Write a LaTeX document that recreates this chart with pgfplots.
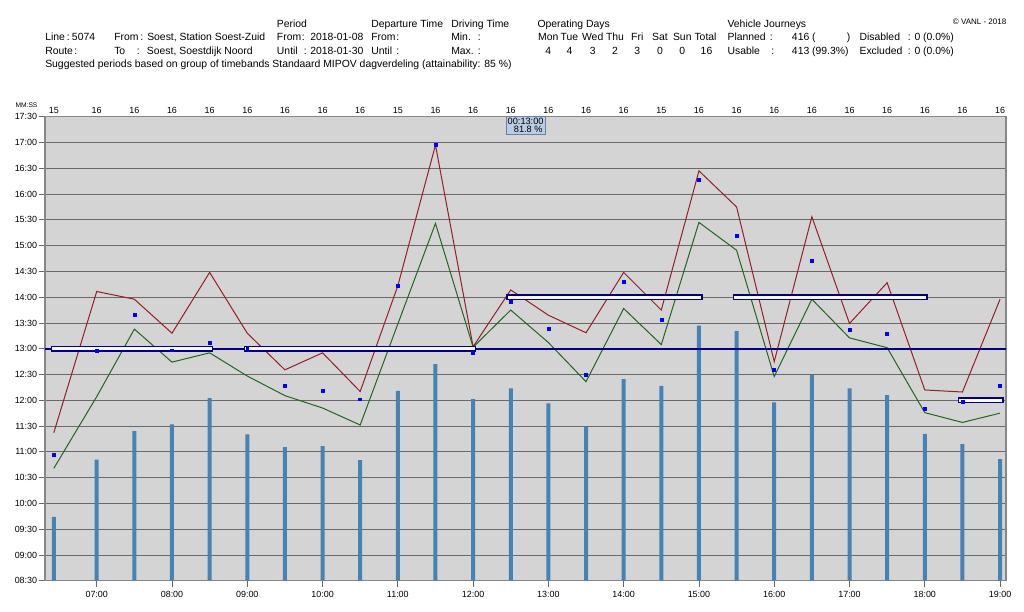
\documentclass[border=0pt]{standalone}
\usepackage{pgfplots}
\pgfplotsset{compat=1.18}
\usepackage{fontspec}
\setmainfont{Liberation Sans}

\definecolor{plotbg}{RGB}{212,212,212}
\definecolor{gridc}{RGB}{105,105,105}
\definecolor{framec}{RGB}{135,135,135}
\definecolor{barc}{RGB}{70,130,180}
\definecolor{maxc}{RGB}{150,30,40}
\definecolor{minc}{RGB}{35,100,35}
\definecolor{navyc}{RGB}{0,0,128}
\definecolor{starc}{RGB}{0,0,255}
\definecolor{tipfill}{RGB}{185,205,228}
\definecolor{tipdraw}{RGB}{110,130,160}

\newcommand{\hdr}{\fontsize{7.8pt}{9.4pt}\selectfont}
\newcommand{\tck}{\fontsize{6.7pt}{8pt}\selectfont}

\pgfplotstableread{
x y
6.43 9.74
7.0 10.85
7.5 11.40
8.0 11.53
8.5 12.04
9.0 11.34
9.5 11.09
10.0 11.11
10.5 10.84
11.0 12.18
11.5 12.70
12.0 12.02
12.5 12.23
13.0 11.94
13.5 11.48
14.0 12.41
14.5 12.28
15.0 13.45
15.5 13.34
16.0 11.96
16.5 12.49
17.0 12.23
17.5 12.10
18.0 11.35
18.5 11.15
19.0 10.86
}\bars

\pgfplotstableread{
x y
6.43 11.37
7.0 14.11
7.5 13.96
8.0 13.30
8.5 14.48
9.0 13.30
9.5 12.59
10.0 12.92
10.5 12.17
11.0 14.22
11.5 16.95
12.0 13.04
12.5 14.14
13.0 13.65
13.5 13.31
14.0 14.48
14.5 13.75
15.0 16.45
15.5 15.75
16.0 12.75
16.5 15.56
17.0 13.49
17.5 14.28
18.0 12.20
18.5 12.16
19.0 13.96
}\maxt

\pgfplotstableread{
x y
6.43 10.68
7.0 12.07
7.5 13.38
8.0 12.74
8.5 12.92
9.0 12.47
9.5 12.09
10.0 11.85
10.5 11.52
11.0 13.48
11.5 15.43
12.0 13.03
12.5 13.75
13.0 13.12
13.5 12.36
14.0 13.78
14.5 13.08
15.0 15.45
15.5 14.91
16.0 12.46
16.5 13.96
17.0 13.21
17.5 13.02
18.0 11.76
18.5 11.57
19.0 11.75
}\mint

\pgfplotstableread{
x y
6.43 10.94
7.0 12.96
7.5 13.65
8.0 12.97
8.5 13.12
9.0 13.00
9.5 12.28
10.0 12.18
10.5 12.02
11.0 14.22
11.5 16.95
12.0 12.92
12.5 13.91
13.0 13.38
13.5 12.50
14.0 14.30
14.5 13.56
15.0 16.27
15.5 15.19
16.0 12.60
16.5 14.70
17.0 13.36
17.5 13.29
18.0 11.84
18.5 11.97
19.0 12.29
}\medt

\begin{document}
\begin{tikzpicture}
\path[use as bounding box] (0,0) rectangle (768pt,-458.25pt);
\begin{scope}[x=0.75pt,y=-0.75pt,every node/.style={inner sep=0pt,font=\hdr}]
% row 0
\node[anchor=base west] at (276.7,27.5) {Period};
\node[anchor=base west] at (371,27.5) {Departure Time};
\node[anchor=base west] at (451,27.5) {Driving Time};
\node[anchor=base west] at (537.3,27.5) {Operating Days};
\node[anchor=base west] at (727.3,27.5) {Vehicle Journeys};
\node[anchor=base east,font=\fontsize{6pt}{7pt}\selectfont] at (1006.5,24) {© VANL - 2018};
% row 1
\node[anchor=base west] at (45,40.7) {Line};
\node[anchor=base west] at (66.7,40.7) {:};
\node[anchor=base west] at (71.7,40.7) {5074};
\node[anchor=base west] at (114,40.7) {From};
\node[anchor=base west] at (140,40.7) {:};
\node[anchor=base west] at (147,40.7) {Soest, Station Soest-Zuid};
\node[anchor=base west] at (276.7,40.7) {From};
\node[anchor=base west] at (301.5,40.7) {:};
\node[anchor=base west] at (310,40.7) {2018-01-08};
\node[anchor=base west] at (371,40.7) {From};
\node[anchor=base west] at (396,40.7) {:};
\node[anchor=base west] at (451,40.7) {Min.};
\node[anchor=base west] at (477.5,40.7) {:};
\node[anchor=base] at (548.3,40.7) {Mon};
\node[anchor=base] at (569.5,40.7) {Tue};
\node[anchor=base] at (592.7,40.7) {Wed};
\node[anchor=base] at (615,40.7) {Thu};
\node[anchor=base] at (637.3,40.7) {Fri};
\node[anchor=base] at (660,40.7) {Sat};
\node[anchor=base] at (682.3,40.7) {Sun};
\node[anchor=base] at (705.5,40.7) {Total};
\node[anchor=base west] at (727.3,40.7) {Planned};
\node[anchor=base west] at (769.5,40.7) {:};
\node[anchor=base west] at (791.7,40.7) {416 (};
\node[anchor=base west] at (846.5,40.7) {)};
\node[anchor=base west] at (859.3,40.7) {Disabled};
\node[anchor=base west] at (907.7,40.7) {:};
\node[anchor=base west] at (914.3,40.7) {0 (0.0\%)};
% row 2
\node[anchor=base west] at (45,54.3) {Route};
\node[anchor=base west] at (74,54.3) {:};
\node[anchor=base west] at (114,54.3) {To};
\node[anchor=base west] at (136.7,54.3) {:};
\node[anchor=base west] at (146.7,54.3) {Soest, Soestdijk Noord};
\node[anchor=base west] at (276.7,54.3) {Until};
\node[anchor=base west] at (303.5,54.3) {:};
\node[anchor=base west] at (310,54.3) {2018-01-30};
\node[anchor=base west] at (371,54.3) {Until};
\node[anchor=base west] at (396,54.3) {:};
\node[anchor=base west] at (451,54.3) {Max.};
\node[anchor=base west] at (477.5,54.3) {:};
\node[anchor=base] at (548.3,54.3) {4};
\node[anchor=base] at (569.5,54.3) {4};
\node[anchor=base] at (592.7,54.3) {3};
\node[anchor=base] at (615,54.3) {2};
\node[anchor=base] at (637.3,54.3) {3};
\node[anchor=base] at (660,54.3) {0};
\node[anchor=base] at (682.3,54.3) {0};
\node[anchor=base] at (706.5,54.3) {16};
\node[anchor=base west] at (727.3,54.3) {Usable};
\node[anchor=base west] at (771,54.3) {:};
\node[anchor=base west] at (791.7,54.3) {413 (99.3\%)};
\node[anchor=base west] at (859.3,54.3) {Excluded};
\node[anchor=base west] at (907.7,54.3) {:};
\node[anchor=base west] at (914.3,54.3) {0 (0.0\%)};
% row 3
\node[anchor=base west] at (45,67.7) {Suggested periods based on group of timebands Standaard MIPOV dagverdeling (attainability: 85 \%)};
% unit label
\node[anchor=base,font=\fontsize{5pt}{6pt}\selectfont] at (26.5,107.7) {MM:SS};
\end{scope}

\begin{axis}[
  at={(33.75pt,-435.525pt)}, anchor=south west,
  scale only axis, width=720.75pt, height=348pt,
  xmin=6.313, xmax=19.079, ymin=8.5, ymax=17.5,
  axis background/.style={fill=plotbg},
  axis line style={draw=framec, line width=1pt},
  tick pos=left, tick align=outside,
  major tick length=4.5pt,
  tick style={draw=gridc, line width=0.6pt},
  ymajorgrids, grid style={draw=gridc, line width=0.6pt},
  xtick={7,8,9,10,11,12,13,14,15,16,17,18,19},
  xticklabels={07:00,08:00,09:00,10:00,11:00,12:00,13:00,14:00,15:00,16:00,17:00,18:00,19:00},
  ytick={8.5,9,9.5,10,10.5,11,11.5,12,12.5,13,13.5,14,14.5,15,15.5,16,16.5,17,17.5},
  yticklabels={08:30,09:00,09:30,10:00,10:30,11:00,11:30,12:00,12:30,13:00,13:30,14:00,14:30,15:00,15:30,16:00,16:30,17:00,17:30},
  tick label style={font=\tck},
  yticklabel style={inner sep=1.2pt},
  extra x ticks={6.43,7,7.5,8,8.5,9,9.5,10,10.5,11,11.5,12,12.5,13,13.5,14,14.5,15,15.5,16,16.5,17,17.5,18,18.5,19},
  extra x tick labels={15,16,16,16,16,16,16,16,16,15,16,16,16,16,16,16,15,16,16,16,16,16,16,16,16,16},
  extra x tick style={xticklabel pos=upper, tick style={draw=none}, grid=none, xticklabel style={inner sep=0.5pt, yshift=-2.8pt}},
]
\addplot[ybar, bar width=3pt, fill=barc, draw=none] table[x=x,y=y] {\bars};
\addplot[maxc, line width=0.75pt, mark=none] table[x=x,y=y] {\maxt};
\addplot[minc, line width=0.75pt, mark=none] table[x=x,y=y] {\mint};
\addplot[navyc, line width=1.2pt, mark=none] coordinates {(6.313,13) (19.079,13)};
\addplot[navyc, line width=1.1pt, fill=white!85!plotbg] coordinates {(6.40,12.955) (8.54,12.955) (8.54,13.045) (6.40,13.045)} --cycle;
\addplot[navyc, line width=1.1pt, fill=white!85!plotbg] coordinates {(8.96,12.955) (12.03,12.955) (12.03,13.045) (8.96,13.045)} --cycle;
\addplot[navyc, line width=1.1pt, fill=white!85!plotbg] coordinates {(12.45,13.955) (15.04,13.955) (15.04,14.045) (12.45,14.045)} --cycle;
\addplot[navyc, line width=1.1pt, fill=white!85!plotbg] coordinates {(15.46,13.955) (18.03,13.955) (18.03,14.045) (15.46,14.045)} --cycle;
\addplot[navyc, line width=1.1pt, fill=white!85!plotbg] coordinates {(18.445,11.955) (19.04,11.955) (19.04,12.045) (18.445,12.045)} --cycle;
\addplot[only marks, mark=square*, mark size=1.1pt, color=starc] table[x=x,y=y] {\medt};
\end{axis}

\begin{scope}[x=0.75pt,y=-0.75pt]
\draw[fill=tipfill, draw=tipdraw, line width=0.6pt] (506.5,116.7) rectangle (545.5,134.5);
\node[anchor=base east,inner sep=0pt,font=\fontsize{6.9pt}{7pt}\selectfont] at (543.8,124.5) {00:13:00};
\node[anchor=base east,inner sep=0pt,font=\fontsize{6.9pt}{7pt}\selectfont] at (542.8,132.3) {81.8 \%};
\end{scope}
\end{tikzpicture}
\end{document}
